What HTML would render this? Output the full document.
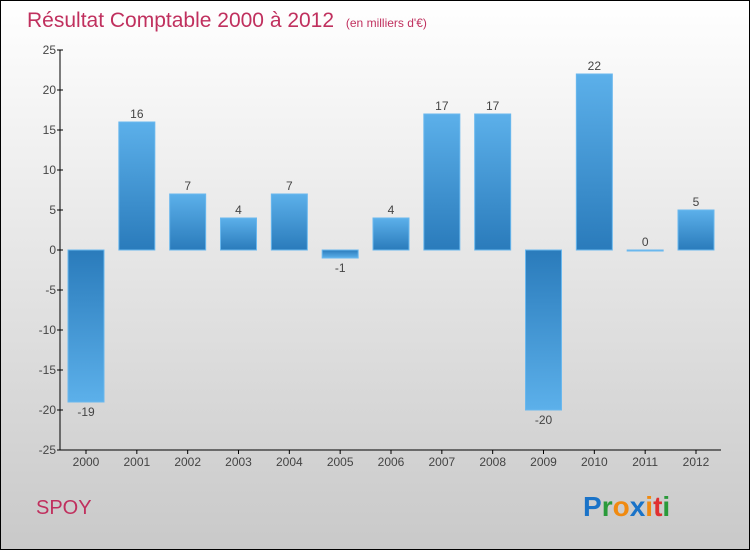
<!DOCTYPE html>
<html><head><meta charset="utf-8"><style>
body{margin:0}
#c{position:relative;width:748px;height:548px;border:1px solid #000;background:linear-gradient(#fff,#c9c9c9);font-family:"Liberation Sans","DejaVu Sans",sans-serif;overflow:hidden}
</style></head><body>
<div id="c">
<svg id="s" width="748" height="548" style="position:absolute;left:0;top:0">
<defs>
<linearGradient id="gp" x1="0" y1="0" x2="0" y2="1"><stop offset="0" stop-color="#5cb0ea"/><stop offset="1" stop-color="#2a7bbb"/></linearGradient>
<linearGradient id="gn" x1="0" y1="0" x2="0" y2="1"><stop offset="0" stop-color="#2a7bbb"/><stop offset="1" stop-color="#5cb0ea"/></linearGradient>
</defs>
<text x="26" y="26" font-size="21" fill="#c0305e">Résultat Comptable 2000 à 2012 <tspan font-size="12" dx="6">(en milliers d'€)</tspan></text>
<text x="35" y="513" font-size="20" fill="#c0305e">SPOY</text>
<text x="582" y="515" font-size="28" font-weight="bold"><tspan fill="#1a73c8">P</tspan><tspan fill="#2a9a3a">r</tspan><tspan fill="#f08a10">o</tspan><tspan fill="#1a73c8">x</tspan><tspan fill="#f08a10">i</tspan><tspan fill="#e03030">t</tspan><tspan fill="#2a9a3a">i</tspan></text>
<g id="g"></g>
</svg>
</div>
<script>
const categories=["2000","2001","2002","2003","2004","2005","2006","2007","2008","2009","2010","2011","2012"];
const values=[-19,16,7,4,7,-1,4,17,17,-20,22,0,5];
const yTicks=[25,20,15,10,5,0,-5,-10,-15,-20,-25];
const NS="http://www.w3.org/2000/svg";
const g=document.getElementById('g');
const X0=59,X1=720,Y0=449,Y1=49,VMIN=-25,VMAX=25;
function y(v){return Y0-(v-VMIN)/(VMAX-VMIN)*(Y0-Y1);}
function x(i){return 85+i*(695-85)/(categories.length-1);}
function el(t,a,txt){const e=document.createElementNS(NS,t);for(const k in a)e.setAttribute(k,a[k]);if(txt!==undefined)e.textContent=txt;g.appendChild(e);return e;}
let ax=el('line',{x1:X0,y1:Y1,x2:X0,y2:Y0,stroke:'#000'});


let bx=el('line',{x1:X0,y1:Y0,x2:X1,y2:Y0,stroke:'#000'});


yTicks.forEach(v=>{
 let t=el('line',{x1:X0-3,x2:X0+3,y1:y(v),y2:y(v),stroke:'#000'});
 
 
 let l=el('text',{x:X0-4,y:y(v)+4,'font-size':12,fill:'#444','text-anchor':'end'},v);
 
 
});
categories.forEach((c,i)=>{
 const v=values[i],cx=x(i),w=36;
 let t=el('line',{x1:cx,x2:cx,y1:Y0,y2:Y0+4,stroke:'#000'});
 
 
 let l=el('text',{x:cx,y:Y0+16,'font-size':12,fill:'#444','text-anchor':'middle'},c);
 
 
 const top=Math.min(y(v),y(0)),h=Math.max(Math.abs(y(v)-y(0)),1);
 let r=el('rect',{x:cx-w/2,y:top,width:w,height:h,fill:v>=0?'url(#gp)':'url(#gn)',stroke:'#6ab8ee','stroke-width':1});
 
 
 let vl=el('text',{x:cx,y:v>=0?y(v)-4:y(v)+14,'font-size':12,fill:'#444','text-anchor':'middle'},v);
 
 
});
</script>
</body></html>
